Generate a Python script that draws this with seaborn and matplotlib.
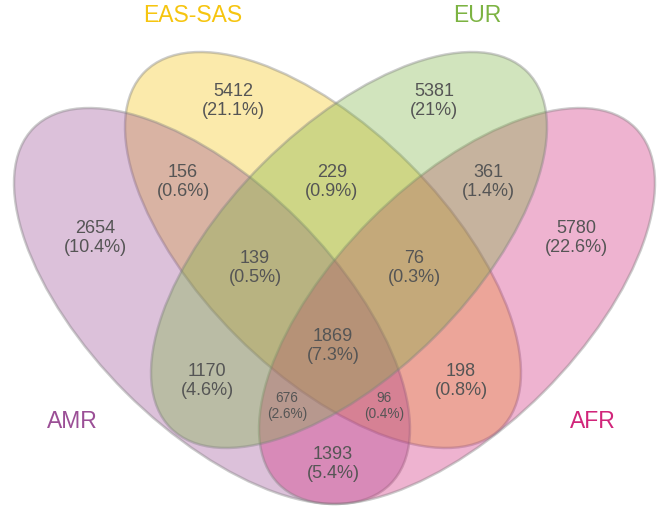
import numpy as np
import seaborn as sns
import matplotlib.pyplot as plt
from matplotlib.patches import Ellipse
from matplotlib.colors import to_rgba

# sets
set_names = ["AMR", "EAS-SAS", "EUR", "AFR"]
set_colors = ["#9b4f96", "#f6c510", "#7cb342", "#d1257a"]
# stacking order of the ellipses (bottom first), as it shows in the overlaps
draw_order = ["EAS-SAS", "AMR", "AFR", "EUR"]

# region counts and share of total
region_keys = ["EAS", "EUR", "AMR_EAS", "EAS_EUR", "EUR_AFR", "AMR", "AFR",
               "AMR_EAS_EUR", "EAS_EUR_AFR", "ALL", "AMR_EUR", "EAS_AFR",
               "AMR_EUR_AFR", "AMR_EAS_AFR", "AMR_AFR"]
region_counts = [5412, 5381, 156, 229, 361, 2654, 5780,
                 139, 76, 1869, 1170, 198, 676, 96, 1393]
region_pcts = ["21.1%", "21%", "0.6%", "0.9%", "1.4%", "10.4%", "22.6%",
               "0.5%", "0.3%", "7.3%", "4.6%", "0.8%", "2.6%", "0.4%", "5.4%"]

# layout (pixel space of the 662x508 canvas)
ell_center = {"AMR": (212, 306), "EAS-SAS": (323, 250), "EUR": (349, 250), "AFR": (457, 306)}
ell_angle = {"AMR": 45, "EAS-SAS": 45, "EUR": 135, "AFR": 135}
ell_w, ell_h = 504, 244
label_pos = {"AMR": (72, 421), "EAS-SAS": (193, 16), "EUR": (477, 16), "AFR": (593, 421)}
text_pos = {
    "EAS": (233, 101), "EUR": (434, 101),
    "AMR_EAS": (183, 182), "EAS_EUR": (332, 182), "EUR_AFR": (488, 182),
    "AMR": (95, 238), "AFR": (576, 238),
    "AMR_EAS_EUR": (255, 268), "EAS_EUR_AFR": (414, 268),
    "ALL": (333, 346),
    "AMR_EUR": (207, 381), "EAS_AFR": (461, 381),
    "AMR_EUR_AFR": (287, 406), "AMR_EAS_AFR": (384, 406),
    "AMR_AFR": (333, 464),
}
small = {"AMR_EUR_AFR", "AMR_EAS_AFR"}

sns.set_theme(style="white")
plt.rcParams['font.family'] = ['Liberation Sans', 'DejaVu Sans']

fig = plt.figure(figsize=(6.62, 5.08), dpi=100)
ax = fig.add_axes([0, 0, 1, 1])
ax.set_xlim(0, 662)
ax.set_ylim(508, 0)
ax.axis("off")

col_of = dict(zip(set_names, set_colors))
for name in draw_order:
    e = Ellipse(ell_center[name], ell_w, ell_h, angle=ell_angle[name],
                facecolor=to_rgba(col_of[name], 0.35), edgecolor=(0.5, 0.5, 0.5, 0.4),
                linewidth=1.8)
    ax.add_patch(e)

for name in set_names:
    ax.text(*label_pos[name], name, color=col_of[name], fontsize=16.5,
            ha="center", va="center")

for key, n, p in zip(region_keys, region_counts, region_pcts):
    fs = 9.8 if key in small else 13
    ax.text(*text_pos[key], f"{n}\n({p})", color="#555555", fontsize=fs,
            ha="center", va="center", linespacing=1.15)

fig.savefig("out.png", dpi=100)
